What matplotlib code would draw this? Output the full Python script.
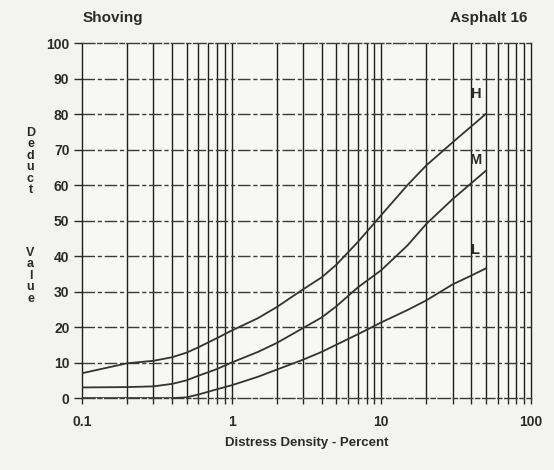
import numpy as np
import matplotlib.pyplot as plt

# densities (percent)
density = [0.1, 0.2, 0.3, 0.4, 0.5, 0.6, 0.7, 0.8, 1, 1.5, 2, 3, 4, 5, 7, 10, 15, 20, 30, 40, 50]
deduct_h = [7, 9.8, 10.5, 11.5, 12.8, 14.3, 15.7, 16.9, 19, 22.5, 25.6, 30.6, 34, 37.5, 44, 51.5, 60, 65.5, 72, 76.5, 80]
deduct_m = [3, 3.1, 3.3, 4, 5, 6.3, 7.3, 8.2, 10, 13, 15.5, 19.7, 22.7, 25.8, 31.2, 36, 43, 49, 56, 60.5, 64]
deduct_l = [0, 0, 0, 0, 0.2, 1.0, 1.8, 2.5, 3.6, 6, 8, 10.8, 13, 15, 18, 21.3, 24.8, 27.5, 32, 34.5, 36.5]
curve_labels = ['H', 'M', 'L']
label_pos = [(43, 85.5), (43, 67), (43, 41.7)]

x_ticks = [0.1, 1, 10, 100]
x_ticklabels = ['0.1', '1', '10', '100']
y_ticks = list(range(0, 101, 10))

plt.rcParams['font.family'] = ['Liberation Sans', 'DejaVu Sans']
ink = '#2a2a2a'

fig = plt.figure(figsize=(5.54, 4.70), dpi=100, facecolor='#f3f3f1')
ax = fig.add_axes([0.148, 0.153, 0.810, 0.7555], facecolor='#f7f7f6')

ax.set_xscale('log')
ax.set_xlim(0.1, 100)
ax.set_ylim(0, 100)

# vertical grid lines at every log subdivision
minor = [m * 10.0 ** e for e in (-1, 0, 1) for m in range(2, 10)]
for v in minor + [1, 10]:
    ls = (0, (5, 2, 1, 2)) if v == 0.7 else '-'
    ax.axvline(v, color='#1e1e1e', lw=1.0, ls=ls, zorder=1)
# horizontal grid lines, dashed like the scanned sheet
for v in y_ticks[1:-1]:
    ax.axhline(v, color='#3a3a3a', lw=1.0, ls=(0, (9, 2, 3, 2)), zorder=1)

for side in ['left', 'right']:
    ax.spines[side].set_color('#1e1e1e')
    ax.spines[side].set_linewidth(1.0)
for side in ['top', 'bottom']:
    ax.spines[side].set_color('#3a3a3a')
    ax.spines[side].set_linewidth(1.0)
    ax.spines[side].set_linestyle((0, (9, 2, 3, 2)))

for ys in (deduct_h, deduct_m, deduct_l):
    ax.plot(density, ys, color='#333333', lw=1.3, zorder=3)

for lab, (xp, yp) in zip(curve_labels, label_pos):
    ax.text(xp, yp, lab, ha='center', va='center', fontsize=10.5,
            fontweight='bold', color=ink)

ax.set_xticks(x_ticks)
ax.set_xticklabels(x_ticklabels)
ax.set_xticks(minor, minor=True)
ax.xaxis.set_minor_formatter(plt.NullFormatter())
ax.set_yticks(y_ticks)
ax.tick_params(axis='both', which='both', direction='out', colors='#2a2a2a',
               labelsize=10, width=1.0)
ax.tick_params(axis='x', which='major', length=4, pad=8)
ax.tick_params(axis='x', which='minor', length=4)
ax.tick_params(axis='y', length=6, pad=3)
for t in ax.get_xticklabels() + ax.get_yticklabels():
    t.set_fontweight('bold')
    t.set_color(ink)

ax.set_xlabel('Distress Density - Percent', fontsize=9.5, fontweight='bold',
              color=ink, labelpad=6)

fig.text(0.150, 0.962, 'Shoving', fontsize=11, fontweight='bold', color=ink,
         ha='left', va='center')
fig.text(0.952, 0.962, 'Asphalt 16', fontsize=11, fontweight='bold', color=ink,
         ha='right', va='center')

# stacked vertical axis title
for word, y0 in (('Deduct', 1 - 133 / 470), ('Value', 1 - 253 / 470)):
    for i, ch in enumerate(word):
        fig.text(0.055, y0 - i * 11.4 / 470, ch, fontsize=9, fontweight='bold',
                 color=ink, ha='center', va='center')

fig.savefig('out.png', dpi=100, facecolor=fig.get_facecolor())
